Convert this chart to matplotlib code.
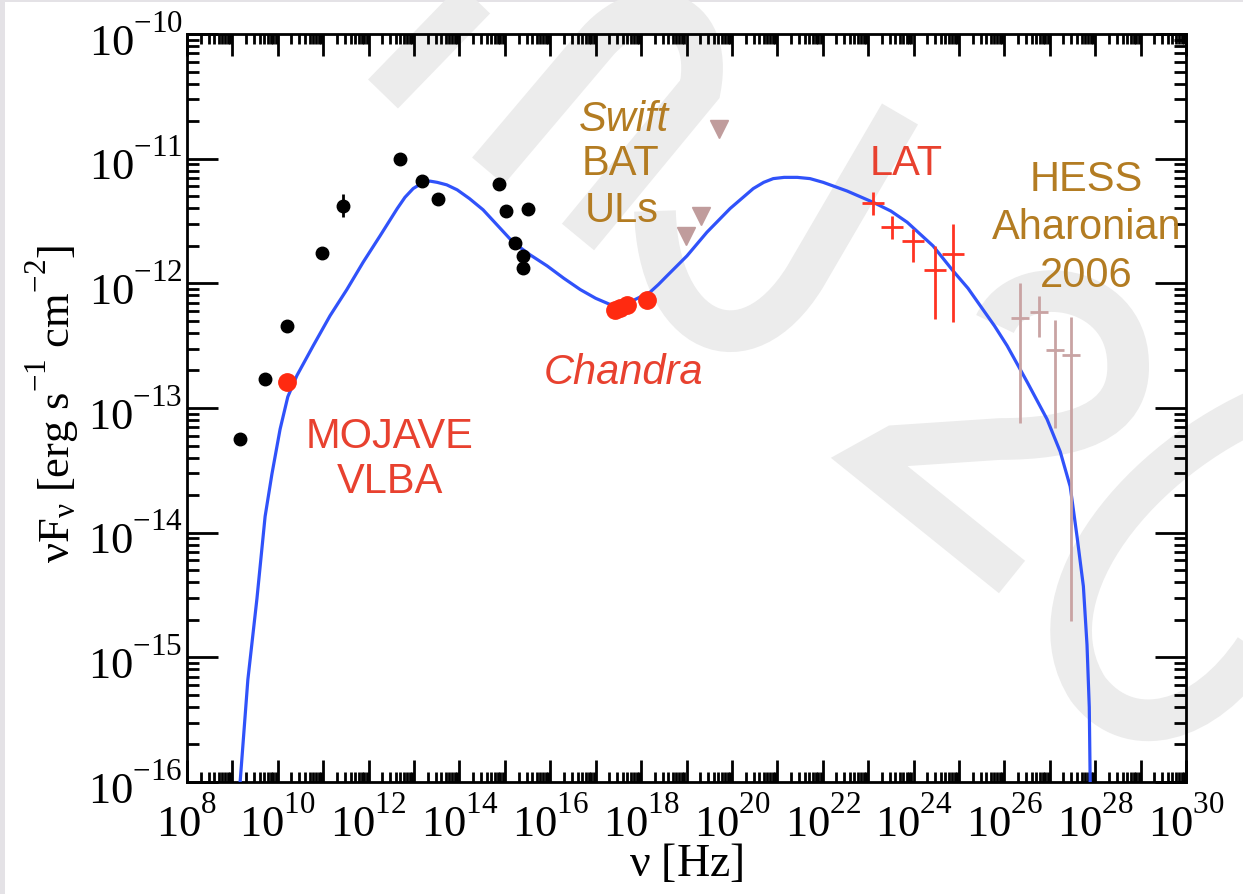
import numpy as np
import matplotlib
matplotlib.use("Agg")
from matplotlib import pyplot as plt, ticker
from matplotlib import _mathtext
from matplotlib.path import Path
from matplotlib.patches import PathPatch, Rectangle

#* SED of the source: frequencies and fluxes kept as log10 values
# archival photometry (black dots)
arch_lognu = [9.17, 9.72, 10.20, 10.97, 11.44, 12.69, 13.18, 13.53, 14.87, 15.03, 15.51, 15.22, 15.40, 15.40]
arch_logf = [-13.25, -12.77, -12.34, -11.76, -11.38, -11.00, -11.18, -11.32, -11.20, -11.42, -11.40, -11.68, -11.78, -11.88]
arch_logf_lo = [-13.25, -12.77, -12.34, -11.76, -11.47, -11.00, -11.18, -11.32, -11.20, -11.42, -11.40, -11.68, -11.78, -11.88]
arch_logf_hi = [-13.25, -12.77, -12.34, -11.76, -11.28, -11.00, -11.18, -11.32, -11.20, -11.42, -11.40, -11.68, -11.78, -11.88]

mojave_lognu = [10.20]
mojave_logf = [-12.79]

chandra_lognu = [17.43, 17.54, 17.69, 18.13]
chandra_logf = [-12.215, -12.199, -12.175, -12.135]

bat_lognu = [18.99, 19.32, 19.72]
bat_logf = [-11.62, -11.46, -10.76]

lat_lognu = [23.11, 23.53, 23.99, 24.48, 24.87]
lat_logf = [-11.356, -11.549, -11.66, -11.894, -11.766]
lat_logf_lo = [-11.453, -11.645, -11.83, -12.287, -12.31]
lat_logf_hi = [-11.268, -11.46, -11.565, -11.70, -11.525]
lat_dex = 0.24

hess_lognu = [26.35, 26.77, 27.12, 27.47]
hess_logf = [-12.28, -12.23, -12.536, -12.576]
hess_logf_lo = [-13.12, -12.43, -13.16, -14.71]
hess_logf_hi = [-12.00, -12.10, -12.295, -12.27]
hess_dex = 0.20

# two-hump model curve
model_lognu = [9.17, 9.34, 9.54, 9.63, 9.72, 9.87, 10.05, 10.22, 10.42, 10.78, 11.15, 11.52, 11.88,
               12.25, 12.63, 12.80, 12.98, 13.20, 13.35, 13.51, 13.72, 13.95, 14.22, 14.52, 15.18,
               15.55, 15.93, 16.30, 16.66, 17.00, 17.32, 17.70, 18.20, 18.38, 18.57, 19.01, 19.45,
               19.96, 20.47, 20.70, 20.91, 21.15, 21.44, 21.72, 22.01, 22.54, 23.11, 23.50, 23.86,
               24.43, 24.65, 24.87, 25.20, 25.47, 25.78, 26.06, 26.50, 26.94, 27.23, 27.45, 27.60,
               27.74, 27.82, 27.87, 27.89]
model_logf = [-16.0, -15.18, -14.53, -14.20, -13.87, -13.53, -13.17, -12.91, -12.74, -12.50, -12.26,
              -12.05, -11.83, -11.62, -11.40, -11.31, -11.24, -11.19, -11.18, -11.19, -11.21, -11.25,
              -11.32, -11.41, -11.67, -11.77, -11.86, -11.96, -12.05, -12.12, -12.17, -12.16, -12.07,
              -12.01, -11.94, -11.78, -11.59, -11.40, -11.24, -11.19, -11.16, -11.15, -11.15, -11.16,
              -11.19, -11.26, -11.35, -11.42, -11.51, -11.70, -11.80, -11.90, -12.04, -12.18, -12.34,
              -12.50, -12.79, -13.09, -13.35, -13.63, -14.03, -14.43, -14.90, -15.40, -16.0]


def lin(vals):
    return 10.0 ** np.asarray(vals, dtype=float)


def err_pair(center, lo, hi):
    c = lin(center)
    return np.vstack([c - lin(lo), lin(hi) - c])


def dex_err(center, dex):
    c = lin(center)
    return np.vstack([c - c / 10 ** dex, c * 10 ** dex - c])


# grace-style exponents: sit higher above the "10"
_mathtext.FontConstantsBase.sup1 = 1.15

plt.rcParams["mathtext.fontset"] = "custom"
plt.rcParams["mathtext.rm"] = "Liberation Serif"
plt.rcParams["mathtext.it"] = "Liberation Serif:italic"
plt.rcParams["font.family"] = ["Liberation Serif", "DejaVu Serif"]
plt.rcParams["axes.unicode_minus"] = False

W, H = 1243, 895
fig = plt.figure(figsize=(W / 100, H / 100), dpi=100, facecolor="#e4e2e6")
fig.add_artist(Rectangle((5 / W, 0), 1, 1 - 3 / H, transform=fig.transFigure,
                         facecolor="white", edgecolor="none", zorder=-3))

#* faint background lettering, drawn in figure pixels
def stroke(verts, codes):
    pts = [(x / W, 1 - y / H) for x, y in verts]
    p = PathPatch(Path(pts, codes), transform=fig.transFigure, fill=False,
                  edgecolor="#ececec", lw=30, capstyle="butt", joinstyle="miter", zorder=-2)
    fig.add_artist(p)

M, L, C = Path.MOVETO, Path.LINETO, Path.CURVE4
stroke([(383, 95), (480, -5)], [M, L])
stroke([(488, 172), (598, 42), (645, -10), (715, 10), (700, 90), (578, 238)],
       [M, L, C, C, C, L])
stroke([(655, 212), (658, 335), (745, 375), (805, 278), (900, 115)], [M, C, C, C, L])
stroke([(995, 325), (1020, 270), (1125, 285), (1128, 362), (1132, 425), (1070, 440), (1000, 440),
        (895, 447), (868, 462), (1012, 578)],
       [M, C, C, C, C, C, C, L, L, L])
stroke([(1255, 412), (1130, 470), (1030, 600), (1088, 690), (1130, 745), (1205, 725), (1255, 650)],
       [M, C, C, C, C, C, C])

ax = fig.add_axes([187 / W, 1 - 783 / H, (1186 - 187) / W, (783 - 35) / H])
ax.set_facecolor("none")
ax.set_xscale("log")
ax.set_yscale("log")
ax.set_xlim(1e8, 1e30)
ax.set_ylim(1e-16, 1e-10)

ax.plot(lin(model_lognu), lin(model_logf), color="#3052fa", lw=2.3, zorder=3)

ax.errorbar(lin(arch_lognu), lin(arch_logf), yerr=err_pair(arch_logf, arch_logf_lo, arch_logf_hi),
            fmt="o", color="black", ms=9, elinewidth=2, capsize=0, zorder=4)
ax.plot(lin(mojave_lognu), lin(mojave_logf), "o", color="#ff2a10", ms=12.5, zorder=4)
ax.plot(lin(chandra_lognu), lin(chandra_logf), "o", color="#ff2a10", ms=12.5, zorder=4)
ax.plot(lin(bat_lognu), lin(bat_logf), "v", color="#c09c9c", ms=13, zorder=4)
ax.errorbar(lin(lat_lognu), lin(lat_logf), xerr=dex_err(lat_lognu, lat_dex),
            yerr=err_pair(lat_logf, lat_logf_lo, lat_logf_hi),
            fmt="none", ecolor="#ff3322", elinewidth=2, capsize=0, zorder=4)
ax.errorbar(lin(hess_lognu), lin(hess_logf), xerr=dex_err(hess_lognu, hess_dex),
            yerr=err_pair(hess_logf, hess_logf_lo, hess_logf_hi),
            fmt="none", ecolor="#c9a3a3", elinewidth=2, capsize=0, zorder=4)

#* annotations for each instrument
red = "#e8412f"
brown = "#b37c22"
sans = "Liberation Sans"
kw = dict(transform=ax.transAxes, ha="center", va="center", fontsize=30, family=sans)
ax.text(0.2032, 0.4325, "MOJAVE\nVLBA", color=red, linespacing=1.15, **kw)
ax.text(0.4364, 0.5481, "Chandra", color=red, style="italic", **kw)
ax.text(0.4374, 0.8864, "Swift", color=brown, style="italic", **kw)
ax.text(0.4344, 0.8275, "BAT", color=brown, **kw)
ax.text(0.4354, 0.7647, "ULs", color=brown, **kw)
ax.text(0.7197, 0.8275, "LAT", color=red, **kw)
ax.text(0.8999, 0.8061, "HESS", color=brown, **kw)
ax.text(0.9009, 0.7420, "Aharonian", color=brown, **kw)
ax.text(0.8999, 0.6778, "2006", color=brown, **kw)

#* axis ticks
ax.xaxis.set_major_locator(ticker.LogLocator(base=10, numticks=40))
ax.xaxis.set_minor_locator(ticker.LogLocator(base=10, subs=np.arange(2, 10), numticks=40))
ax.yaxis.set_major_locator(ticker.LogLocator(base=10, numticks=20))
ax.yaxis.set_minor_locator(ticker.LogLocator(base=10, subs=np.arange(2, 10), numticks=20))


def x_fmt(v, pos):
    e = int(round(np.log10(v)))
    return r"$\mathregular{10^{%d}}$" % e if e % 2 == 0 else ""


def y_fmt(v, pos):
    e = int(round(np.log10(v)))
    return r"$\mathregular{10^{%d}}$" % e


ax.xaxis.set_major_formatter(ticker.FuncFormatter(x_fmt))
ax.yaxis.set_major_formatter(ticker.FuncFormatter(y_fmt))
ax.xaxis.set_minor_formatter(ticker.NullFormatter())
ax.yaxis.set_minor_formatter(ticker.NullFormatter())

ax.tick_params(which="both", direction="in", top=True, right=True, width=2, labelsize=32)
ax.tick_params(axis="x", which="major", length=16, pad=10)
ax.tick_params(axis="x", which="minor", length=7.5)
ax.tick_params(axis="y", which="major", length=22, pad=3)
ax.tick_params(axis="y", which="minor", length=8.5)
for s in ax.spines.values():
    s.set_linewidth(2)

ax.set_xlabel(r"$\mathregular{\nu\ [Hz]}$", fontsize=33)
ax.xaxis.set_label_coords(0.5, -0.08)
ax.set_ylabel(r"$\mathregular{\nu F_{\nu}\ [erg\ s^{-1}\ cm^{-2}]}$", fontsize=32, va="center")
ax.yaxis.set_label_coords(-0.135, 0.507)

fig.savefig("out.png", dpi=100, facecolor=fig.get_facecolor())
